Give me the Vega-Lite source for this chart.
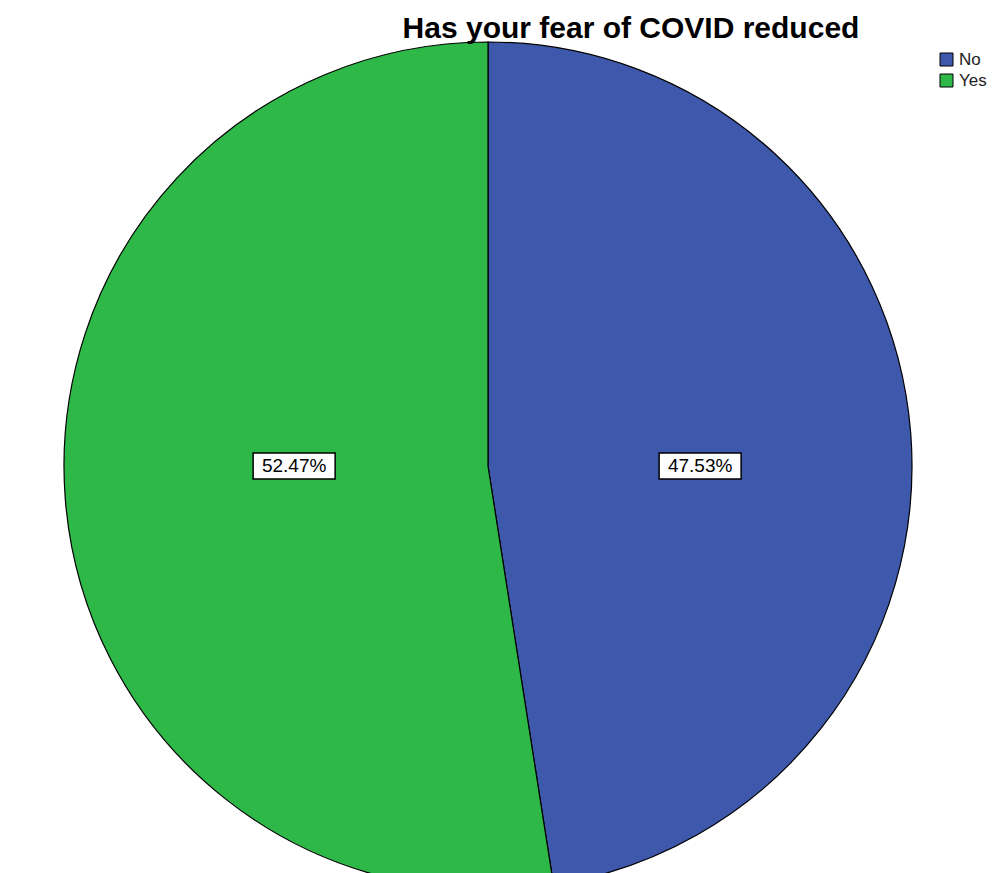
{
  "$schema": "https://vega.github.io/schema/vega-lite/v6.json",
  "width": 976,
  "height": 814,
  "autosize": {"type": "none"},
  "padding": {"top": 59, "left": 0, "right": 29, "bottom": 0},
  "background": "white",
  "config": {"view": {"stroke": null}},
  "title": {
    "text": "Has your fear of COVID reduced",
    "fontSize": 30,
    "font": "Liberation Sans",
    "fontWeight": "bold",
    "color": "#000000",
    "anchor": "middle",
    "dx": 143,
    "offset": -4
  },
  "data": {
    "values": [
      {"answer": "No", "percent": 47.53, "label": "47.53%"},
      {"answer": "Yes", "percent": 52.47, "label": "52.47%"}
    ]
  },
  "layer": [
    {
      "mark": {"type": "arc", "outerRadius": 424, "stroke": "#000000", "strokeWidth": 1.2},
      "encoding": {
        "theta": {"field": "percent", "type": "quantitative", "stack": true},
        "color": {
          "field": "answer",
          "type": "nominal",
          "scale": {"domain": ["No", "Yes"], "range": ["#3E58AC", "#2EB848"]},
          "legend": {
            "orient": "none",
            "legendX": 938,
            "legendY": -8,
            "title": null,
            "padding": 0,
            "symbolType": "square",
            "symbolSize": 169,
            "symbolStrokeColor": "#000000",
            "symbolStrokeWidth": 1,
            "symbolOpacity": 1,
            "labelFontSize": 17,
            "labelFont": "Liberation Sans",
            "labelColor": "#222222",
            "labelOffset": 4,
            "rowPadding": 3
          }
        }
      }
    },
    {
      "mark": {
        "type": "point",
        "shape": "M-1,-0.317H1V0.317H-1Z",
        "size": 6724,
        "filled": true,
        "fill": "white",
        "stroke": "#000000",
        "strokeWidth": 1.5,
        "opacity": 1
      },
      "encoding": {
        "x": {
          "field": "answer",
          "type": "nominal",
          "axis": null,
          "scale": {"type": "point", "domain": ["Yes", "No"], "padding": 0.702, "align": 0.516}
        }
      }
    },
    {
      "mark": {"type": "text", "fontSize": 19, "font": "Liberation Sans", "color": "#000000"},
      "encoding": {
        "x": {"field": "answer", "type": "nominal", "axis": null},
        "text": {"field": "label", "type": "nominal"}
      }
    }
  ]
}
